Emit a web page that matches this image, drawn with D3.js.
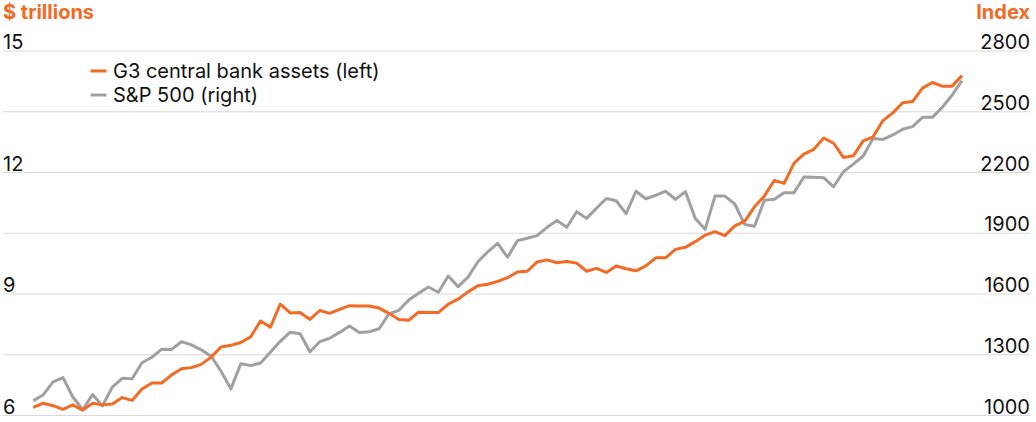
<!DOCTYPE html>
<html>
<head>
<meta charset="utf-8">
<script src="https://cdn.jsdelivr.net/npm/d3@7"></script>
<style>
  html, body { margin: 0; padding: 0; background: #fff; }
  svg { display: block; font-family: Inter, "Liberation Sans", Arial, sans-serif; }
</style>
</head>
<body>
<svg id="chart" width="1036" height="422"></svg>
<script>
// ---- data ----
const periods = d3.range(95); // monthly observations (index)
const g3Assets = [6.19, 6.29, 6.23, 6.14, 6.25, 6.12, 6.29, 6.25, 6.27, 6.43,
  6.36, 6.64, 6.79, 6.79, 6.99, 7.14, 7.17, 7.25, 7.43, 7.68,
  7.72, 7.79, 7.93, 8.32, 8.17, 8.74, 8.52, 8.53, 8.36, 8.58,
  8.51, 8.61, 8.70, 8.69, 8.69, 8.64, 8.51, 8.36, 8.34, 8.54,
  8.53, 8.53, 8.74, 8.86, 9.04, 9.19, 9.23, 9.30, 9.39, 9.53,
  9.55, 9.78, 9.83, 9.76, 9.79, 9.75, 9.55, 9.62, 9.52, 9.68,
  9.61, 9.56, 9.68, 9.88, 9.88, 10.09, 10.14, 10.28, 10.44, 10.53,
  10.43, 10.67, 10.78, 11.14, 11.41, 11.79, 11.72, 12.22, 12.44, 12.56,
  12.84, 12.71, 12.36, 12.40, 12.77, 12.87, 13.27, 13.46, 13.71, 13.74,
  14.07, 14.21, 14.12, 14.12, 14.38];
const sp500 = [1071, 1099, 1164, 1185, 1089, 1026, 1101, 1045, 1138, 1181,
  1179, 1258, 1285, 1325, 1324, 1362, 1346, 1322, 1290, 1216,
  1129, 1253, 1244, 1257, 1310, 1364, 1409, 1401, 1312, 1362,
  1379, 1408, 1440, 1408, 1411, 1426, 1499, 1517, 1568, 1601,
  1632, 1606, 1686, 1634, 1681, 1757, 1806, 1848, 1779, 1861,
  1873, 1886, 1927, 1961, 1927, 2004, 1971, 2021, 2069, 2058,
  1994, 2105, 2068, 2085, 2105, 2065, 2103, 1971, 1917, 2081,
  2081, 2042, 1941, 1932, 2060, 2065, 2098, 2098, 2175, 2174,
  2172, 2127, 2201, 2239, 2279, 2366, 2361, 2383, 2411, 2424,
  2470, 2470, 2519, 2580, 2651];
const leftTicks = [6, 9, 12, 15];
const rightTicks = [1000, 1300, 1600, 1900, 2200, 2500, 2800];
const leftTitle = "$ trillions";
const rightTitle = "Index";
const seriesNames = ["G3 central bank assets (left)", "S&P 500 (right)"];

// ---- styles ----
const ORANGE = "#f26a23";
const GRAY = "#a0a0a0";
const GRID = "#d9d9d9";
const FS = 20;

const svg = d3.select("#chart");
const gridLeft = 3, gridRight = 1030;

const x = d3.scaleLinear().domain([0, periods.length - 1]).range([33.3, 962]);
const yL = d3.scaleLinear().domain([6, 15]).range([415, 50.5]);
const yR = d3.scaleLinear().domain([1000, 2800]).range([415, 50.5]);

// gridlines + right labels via right-side axis
const rAxis = svg.append("g")
  .attr("transform", `translate(${gridRight},0)`)
  .call(d3.axisLeft(yR).tickValues(rightTicks).tickSize(gridRight - gridLeft).tickFormat(d3.format("d")));
rAxis.select(".domain").remove();
rAxis.selectAll(".tick line").attr("stroke", GRID).attr("stroke-width", 1);
rAxis.selectAll(".tick text")
  .attr("x", 0).attr("dy", "-0.1em")
  .attr("text-anchor", "end")
  .attr("font-family", "Inter, 'Liberation Sans', Arial, sans-serif")
  .attr("fill", "#111").attr("font-size", FS);

// left labels via left axis
const lAxis = svg.append("g")
  .attr("transform", `translate(${gridLeft},0)`)
  .call(d3.axisRight(yL).tickValues(leftTicks).tickSize(0));
lAxis.select(".domain").remove();
lAxis.selectAll(".tick text")
  .attr("x", 0).attr("dy", "-0.1em")
  .attr("text-anchor", "start")
  .attr("font-family", "Inter, 'Liberation Sans', Arial, sans-serif")
  .attr("fill", "#111").attr("font-size", FS);

// titles
svg.append("text").attr("x", gridLeft).attr("y", 18.5)
  .attr("fill", ORANGE).attr("font-weight", "bold").attr("font-size", FS)
  .text(leftTitle);
svg.append("text").attr("x", gridRight).attr("y", 18.5)
  .attr("text-anchor", "end")
  .attr("fill", ORANGE).attr("font-weight", "bold").attr("font-size", FS)
  .text(rightTitle);

// lines
const lineR = d3.line().x((d, i) => x(periods[i])).y(d => yR(d));
const lineL = d3.line().x((d, i) => x(periods[i])).y(d => yL(d));
svg.append("path").datum(sp500)
  .attr("d", lineR).attr("fill", "none")
  .attr("stroke", GRAY).attr("stroke-width", 3).attr("stroke-linejoin", "round");
svg.append("path").datum(g3Assets)
  .attr("d", lineL).attr("fill", "none")
  .attr("stroke", ORANGE).attr("stroke-width", 3).attr("stroke-linejoin", "round");

// legend
const legend = svg.append("g");
const legColors = [ORANGE, GRAY];
seriesNames.forEach((name, i) => {
  const ly = 71 + i * 24;
  legend.append("line").attr("x1", 90.5).attr("x2", 106.5).attr("y1", ly).attr("y2", ly)
    .attr("stroke", legColors[i]).attr("stroke-width", 3);
  legend.append("text").attr("x", 113).attr("y", ly + 7)
    .attr("fill", "#111").attr("font-size", FS).text(name);
});
</script>
</body>
</html>
